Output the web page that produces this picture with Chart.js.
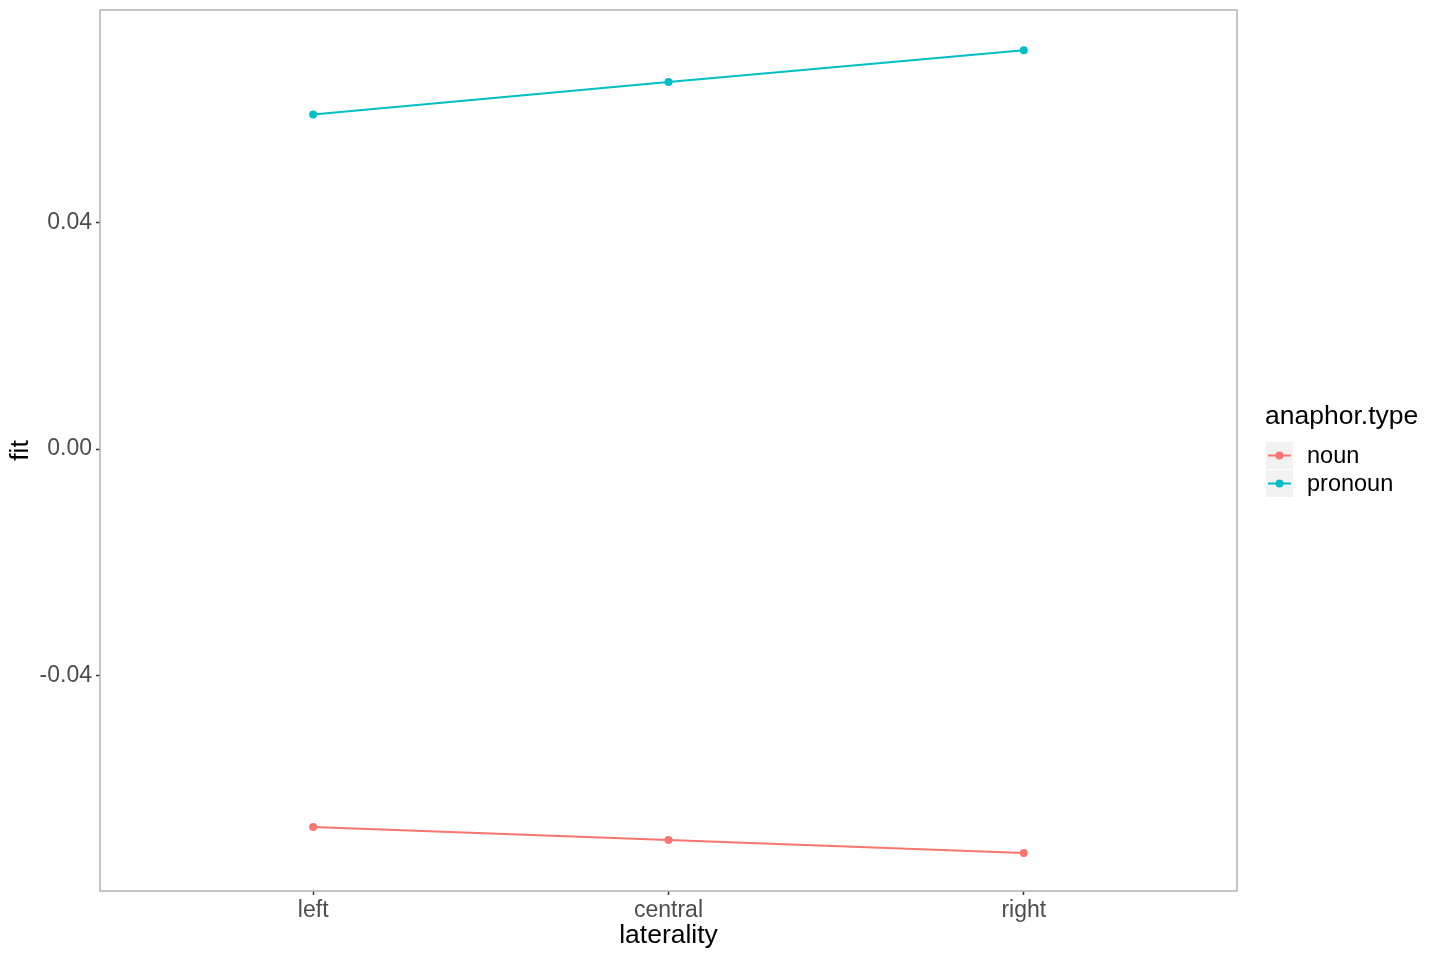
<!DOCTYPE html>
<html>
<head>
<meta charset="utf-8">
<script src="https://cdn.jsdelivr.net/npm/chart.js@4"></script>
<style>
  html, body { margin: 0; padding: 0; background: #fff; }
  #wrap { width: 1430px; height: 960px; position: relative; }
</style>
</head>
<body>
<div id="wrap"><canvas id="fitChart" width="1430" height="960"></canvas></div>
<script>
// data
const categories = ['left', 'central', 'right'];
const nounFit = [-0.0666, -0.0689, -0.0712];
const pronounFit = [0.0590, 0.0647, 0.0703];
const yTicks = [-0.04, 0.00, 0.04];
const yLabels = ['-0.04', '0.00', '0.04'];

const NOUN = '#F8766D';
const PRONOUN = '#00BFC4';
const FONT = '"Liberation Sans", Arial, sans-serif';

function toPoints(vals) {
    return vals.map((v, i) => ({ x: i, y: v }));
}

// panel border like ggplot theme_bw
const panelBorder = {
    id: 'panelBorder',
    afterDraw(chart) {
        const a = chart.chartArea;
        const ctx = chart.ctx;
        ctx.save();
        ctx.strokeStyle = '#b3b3b3';
        ctx.lineWidth = 1.5;
        ctx.strokeRect(a.left, a.top, a.right - a.left, a.bottom - a.top);
        ctx.restore();
    }
};

// legend on the right side
const sideLegend = {
    id: 'sideLegend',
    afterDraw(chart) {
        const ctx = chart.ctx;
        ctx.save();
        ctx.fillStyle = '#000';
        ctx.font = '26.5px ' + FONT;
        ctx.textBaseline = 'middle';
        ctx.fillText('anaphor.type', 1265, 417);
        chart.data.datasets.forEach((ds, i) => {
            const top = 442 + i * 28;
            ctx.fillStyle = '#f2f2f2';
            ctx.fillRect(1266, top, 27, 27);
            ctx.strokeStyle = ds.borderColor;
            ctx.lineWidth = 2;
            ctx.beginPath();
            ctx.moveTo(1268, top + 13.5);
            ctx.lineTo(1291, top + 13.5);
            ctx.stroke();
            ctx.fillStyle = ds.borderColor;
            ctx.beginPath();
            ctx.arc(1279.5, top + 13.5, 4, 0, Math.PI * 2);
            ctx.fill();
            ctx.fillStyle = '#000';
            ctx.font = '23.5px ' + FONT;
            ctx.fillText(ds.label, 1307, top + 15);
        });
        ctx.restore();
    }
};

new Chart(document.getElementById('fitChart').getContext('2d'), {
    type: 'line',
    data: {
        datasets: [{
            label: 'noun',
            data: toPoints(nounFit),
            borderColor: NOUN,
            backgroundColor: NOUN,
            borderWidth: 2,
            pointRadius: 4,
            pointBorderWidth: 0
        }, {
            label: 'pronoun',
            data: toPoints(pronounFit),
            borderColor: PRONOUN,
            backgroundColor: PRONOUN,
            borderWidth: 2,
            pointRadius: 4,
            pointBorderWidth: 0
        }]
    },
    options: {
        responsive: false,
        animation: false,
        layout: { padding: { top: 10, right: 193, left: 0, bottom: 0 } },
        plugins: {
            legend: { display: false },
            tooltip: { enabled: false }
        },
        scales: {
            x: {
                type: 'linear',
                min: -0.6,
                max: 2.6,
                afterBuildTicks: (axis) => {
                    axis.ticks = categories.map((c, i) => ({ value: i }));
                },
                afterFit: (axis) => {
                    axis.height = 69;
                    axis.paddingLeft = 0;
                    axis.paddingRight = 0;
                },
                border: { display: false },
                grid: { drawOnChartArea: false, drawTicks: true, tickLength: 4, tickColor: '#333', tickWidth: 1.5 },
                ticks: {
                    color: '#4d4d4d',
                    font: { family: FONT, size: 23 },
                    padding: 2,
                    maxRotation: 0,
                    callback: (v) => categories[v]
                },
                title: {
                    display: true,
                    text: 'laterality',
                    color: '#000',
                    font: { family: FONT, size: 26.5 },
                    padding: { top: 0, bottom: 8 }
                }
            },
            y: {
                type: 'linear',
                min: -0.0779,
                max: 0.0774,
                afterBuildTicks: (axis) => {
                    axis.ticks = yTicks.map(v => ({ value: v }));
                },
                afterFit: (axis) => {
                    axis.width = 100;
                    axis.paddingTop = 0;
                    axis.paddingBottom = 0;
                },
                border: { display: false },
                grid: { drawOnChartArea: false, drawTicks: true, tickLength: 4, tickColor: '#333', tickWidth: 1.5 },
                ticks: {
                    color: '#4d4d4d',
                    font: { family: FONT, size: 23 },
                    padding: 4,
                    callback: (v) => yLabels[yTicks.indexOf(v)]
                },
                title: {
                    display: true,
                    text: 'fit',
                    color: '#000',
                    font: { family: FONT, size: 26.5 },
                    padding: { top: 5, bottom: 0 }
                }
            }
        }
    },
    plugins: [panelBorder, sideLegend]
});
</script>
</body>
</html>
